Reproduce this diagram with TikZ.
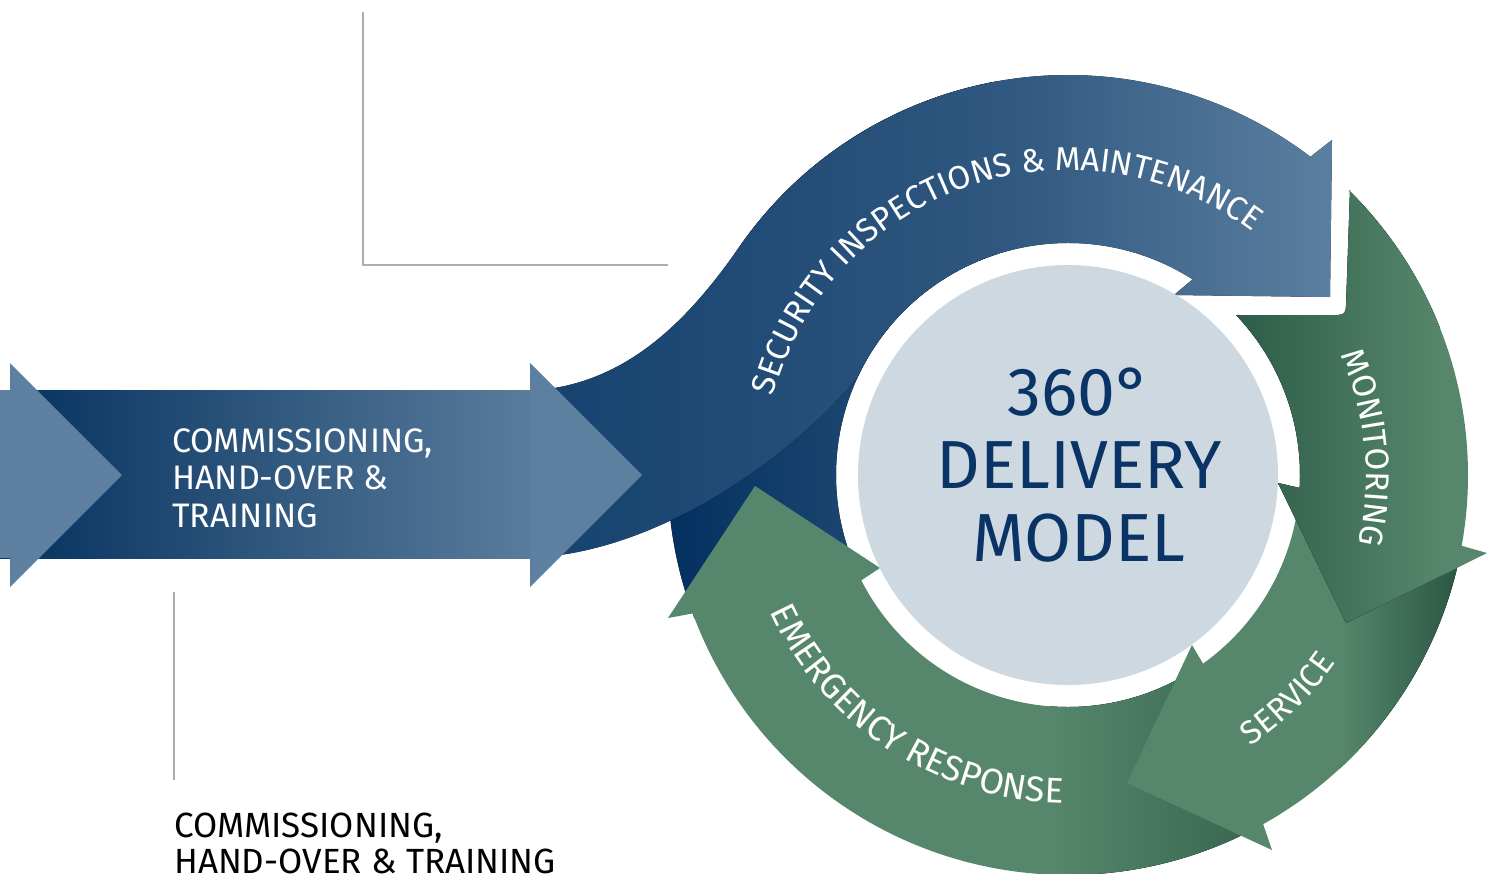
\documentclass[tikz,border=0pt]{standalone}
\usepackage{fontspec}
\setmainfont{Fira Sans}
\usetikzlibrary{calc,decorations.text}
\definecolor{navyA}{HTML}{03305F}
\definecolor{steelA}{HTML}{5B7FA0}
\definecolor{swooshA}{HTML}{15426F}
\definecolor{swooshB}{HTML}{2F577F}
\definecolor{bandA}{HTML}{04315F}
\definecolor{bandB}{HTML}{5A7C9C}
\definecolor{tipblue}{HTML}{5D80A0}
\definecolor{greenA}{HTML}{56876C}
\definecolor{greenD}{HTML}{2D5C48}
\definecolor{greenE}{HTML}{37654F}
\definecolor{greenF}{HTML}{26523F}
\definecolor{circgrey}{HTML}{CDD8E1}
\definecolor{textnavy}{HTML}{0B3466}
\definecolor{linegrey}{HTML}{ADADAD}
\newcommand\arcfmt{\fontsize{33}{40}\selectfont}
\newcommand\arcfmtb{\fontsize{35.5}{40}\selectfont}
\newcommand\hubtext{\vtop{\baselineskip=73pt\halign{\hfil##\hfil\cr 360°\cr DELIVERY\cr MODEL\cr}}}
\newcommand\bandtext{\vtop{\baselineskip=37.5pt\hbox{COMMISSIONING,}\hbox{HAND-OVER \&}\hbox{TRAINING}}}
\newcommand\foottext{\vtop{\baselineskip=36pt\hbox{COMMISSIONING,}\hbox{HAND-OVER \& TRAINING}}}
\tikzset{
  guide/.style={draw=linegrey, line width=1.4pt},
  arclabel/.style={decorate, decoration={text along path, text align=center, text color=white, text={#1}}}
}
\begin{document}
\begin{tikzpicture}[x=1pt,y=-1pt]
\useasboundingbox (0,0) rectangle (1493,873);
\clip (0,0) rectangle (1493,873);
\coordinate (C) at (1068,475);

% guide lines
\coordinate (g1) at (363,12); \coordinate (g2) at (363,265); \coordinate (g3) at (668,265);
\coordinate (g4) at (174,592); \coordinate (g5) at (174,780);
\draw[guide] (g1) -- (g2) -- (g3);
\draw[guide] (g4) -- (g5);

% horizontal band
\fill[left color=bandA, right color=bandB] (0,390) rectangle (530,558);
\fill[tipblue] (0,390) -- (10,390) -- (10,363) -- (122,475) -- (10,587) -- (10,558) -- (0,558) -- cycle;

% blue ring (security inspections)
\begin{scope}
\clip ($(C)+(-52.7:400)$) -- (1332,140) -- (1330,297) -- (1174,295) -- ($(C)+(-57.5:232)$)
  arc[start angle=-57.5, end angle=-201, radius=232] -- ($(C)+(-201:400)$)
  arc[start angle=-201, end angle=-52.7, radius=400] -- cycle;
\fill[left color=navyA, right color=steelA] (668,60) rectangle (1335,700);
\end{scope}

% swoosh joining band to ring
\begin{scope}
\clip (540,390) .. controls (630,381) and (690,318) .. ($(C)+(-145:400)$)
  arc[start angle=-145, end angle=-100, radius=400] -- ($(C)+(-107.43:232)$)
  arc[start angle=-107.43, end angle=-155, radius=232]
  .. controls (780,470) and (650,550) .. (540,557) -- cycle;
\fill[left color=swooshA, right color=swooshB] (540,60) rectangle (998.5,600);
\end{scope}

% band arrow head
\fill[tipblue] (530,363) -- (642,475) -- (530,587) -- cycle;

% emergency response arrow
\begin{scope}
\clip (695,613) -- (668,618) -- (755,486) -- (880,568) -- ($(C)+(153:232)$)
  arc[start angle=153, end angle=61.5, radius=232] -- ($(C)+(61.5:400)$)
  arc[start angle=61.5, end angle=159.7, radius=400] -- cycle;
\fill[greenA] (600,400) rectangle (1300,900);
\fill[left color=greenA, right color=greenE] (1050,400) rectangle (1262,900);
\end{scope}

% service arrow
\begin{scope}
\clip (1192,645) -- (1127,783) -- (1272,850) -- ($(C)+(60.8:400)$)
  arc[start angle=60.8, end angle=11, radius=400] -- ($(C)+(6:232)$)
  arc[start angle=6, end angle=54.4, radius=232] -- cycle;
\fill[greenA] (1100,450) rectangle (1500,900);
\fill[left color=greenA, right color=greenF] (1340,450) rectangle (1470,900);
\end{scope}

% monitoring arrow
\begin{scope}
\clip (1236,315) -- (1338,315) .. controls (1344,315) and (1346,312) .. (1346,306) -- (1350,190)
  -- ($(C)+(-45.3:400)$) arc[start angle=-45.3, end angle=10.2, radius=400]
  -- (1487,553) -- (1346,623) -- (1278,483) -- ($(C)+(3.2:232)$)
  arc[start angle=3.2, end angle=-43.6, radius=232] -- cycle;
\fill[greenA] (1236,150) rectangle (1500,650);
\fill[left color=greenD, right color=greenA] (1236,150) rectangle (1440,650);
\end{scope}

% hub circle
\fill[circgrey] (C) circle[radius=210];

% arc labels
\path[arclabel={|\arcfmt|SECURITY INSPECTIONS {\&} MAINTENANCE}]
  ($(C)+(-177.95:305)$) arc[start angle=-177.95, end angle=-39.95, radius=305];
\path[arclabel={|\arcfmt|MONITORING}]
  ($(C)+(-45.25:298)$) arc[start angle=-45.25, end angle=34.75, radius=298];
\path[arclabel={|\arcfmt|SERVICE}]
  ($(C)+(75.5:327)$) arc[start angle=75.5, end angle=15.5, radius=327];
\path[arclabel={|\arcfmtb|EMERGENCY RESPONSE}]
  ($(C)+(173.1:328)$) arc[start angle=173.1, end angle=73.1, radius=328];

% texts
\node[anchor=base west, inner sep=0, text=white, font=\fontsize{34}{37.5}\selectfont] (band) at (172,452) {\bandtext};
\node[anchor=base, inner sep=0, text=textnavy, font=\fontsize{68}{73}\selectfont] (hub) at (1079,415) {\hubtext};
\node[anchor=base west, inner sep=0, text=black, font=\fontsize{35}{36}\selectfont] (foot) at (174,837) {\foottext};
\end{tikzpicture}
\end{document}
